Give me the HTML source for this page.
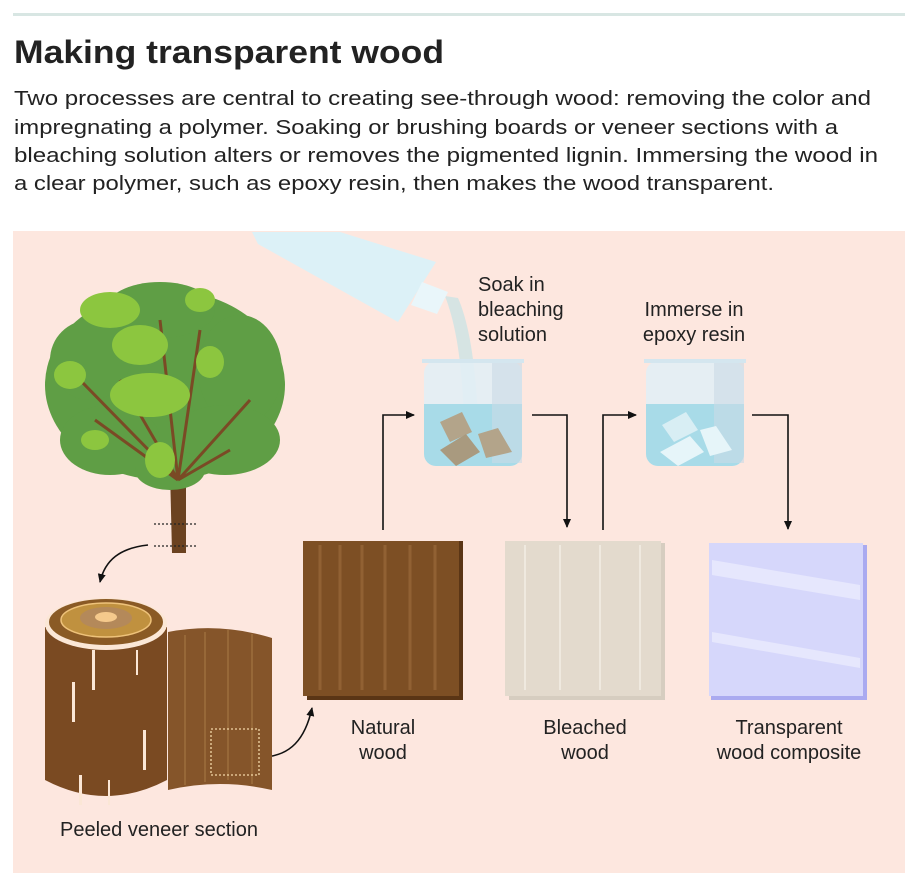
<!DOCTYPE html>
<html><head><meta charset="utf-8"><style>
html,body{margin:0;padding:0;background:#fff}
svg{display:block}
text{font-family:"Liberation Sans",sans-serif;fill:#222}
</style></head><body>
<svg width="919" height="881" viewBox="0 0 919 881" xmlns="http://www.w3.org/2000/svg">
<defs>
<marker id="ah" markerWidth="10" markerHeight="10" refX="8" refY="5" orient="auto" markerUnits="userSpaceOnUse">
<path d="M0,1 L9,5 L0,9 z" fill="#111"/></marker>
</defs>
<rect x="13" y="13" width="892" height="3" fill="#d8e6e3"/>
<text x="14" y="63" font-size="32" font-weight="bold" textLength="430" lengthAdjust="spacingAndGlyphs">Making transparent wood</text>
<g font-size="20">
<text x="14" y="105" textLength="857" lengthAdjust="spacingAndGlyphs">Two processes are central to creating see-through wood: removing the color and</text>
<text x="14" y="134" textLength="824" lengthAdjust="spacingAndGlyphs">impregnating a polymer. Soaking or brushing boards or veneer sections with a</text>
<text x="14" y="162" textLength="864" lengthAdjust="spacingAndGlyphs">bleaching solution alters or removes the pigmented lignin. Immersing the wood in</text>
<text x="14" y="190" textLength="760" lengthAdjust="spacingAndGlyphs">a clear polymer, such as epoxy resin, then makes the wood transparent.</text>
</g>
<rect x="13" y="231" width="892" height="642" fill="#fde7df"/>

<!-- bottle -->
<path d="M445,296 C458,330 462,370 464,420 L478,420 C476,370 470,325 458,298 z" fill="#cfe3e4" opacity="0.85"/>
<polygon points="252,232 340,232 436,262 398,322 258,244" fill="#dcf1f7"/>
<polygon points="422,282 448,292 437,314 411,305" fill="#e9f6fa"/>

<!-- beakers -->
<g>
<rect x="424" y="361" width="98" height="105" rx="12" fill="#e2eef5" opacity="0.9"/>
<path d="M424,404 H522 V454 a12,12 0 0 1 -12,12 H436 a12,12 0 0 1 -12,-12 z" fill="#a8dbe8"/>
<rect x="422" y="359" width="102" height="4" fill="#d4e6ef"/>
<rect x="492" y="363" width="30" height="100" fill="#c9dbe6" opacity="0.6"/>
<polygon points="440,422 462,412 472,432 450,442" fill="#b3a48a"/>
<polygon points="440,450 466,434 480,452 456,466" fill="#a99a7f"/>
<polygon points="478,434 498,428 512,452 486,458" fill="#b3a48a"/>
</g>
<g>
<rect x="646" y="361" width="98" height="105" rx="12" fill="#e2eef5" opacity="0.9"/>
<path d="M646,404 H744 V454 a12,12 0 0 1 -12,12 H658 a12,12 0 0 1 -12,-12 z" fill="#a8dbe8"/>
<rect x="644" y="359" width="102" height="4" fill="#d4e6ef"/>
<rect x="714" y="363" width="30" height="100" fill="#c9dbe6" opacity="0.6"/>
<polygon points="662,425 686,412 698,430 674,442" fill="#d8eef4"/>
<polygon points="660,452 690,436 704,452 678,466" fill="#e6f5f9"/>
<polygon points="700,430 716,426 732,450 710,456" fill="#e6f5f9"/>
</g>
<g font-size="20">
<text x="478" y="291">Soak in</text>
<text x="478" y="316">bleaching</text>
<text x="478" y="341">solution</text>
<text x="694" y="316" text-anchor="middle">Immerse in</text>
<text x="694" y="341" text-anchor="middle">epoxy resin</text>
</g>

<!-- arrows -->
<g fill="none" stroke="#111" stroke-width="1.6">
<path d="M383,530 V415 H414" marker-end="url(#ah)"/>
<path d="M532,415 H567 V527" marker-end="url(#ah)"/>
<path d="M603,530 V415 H636" marker-end="url(#ah)"/>
<path d="M752,415 H788 V529" marker-end="url(#ah)"/>
<path d="M148,545 C120,548 105,560 100,582" marker-end="url(#ah)"/>
<path d="M265,757 C290,755 305,740 312,708" marker-end="url(#ah)"/>
</g>

<!-- boards -->
<rect x="307" y="541" width="156" height="159" fill="#5a3515"/>
<rect x="303" y="541" width="156" height="155" fill="#7d4f24"/>
<g stroke="#9a6a3a" stroke-width="3" opacity="0.7">
<line x1="320" y1="545" x2="320" y2="690"/><line x1="340" y1="545" x2="340" y2="690"/><line x1="362" y1="545" x2="362" y2="690"/><line x1="385" y1="545" x2="385" y2="690"/><line x1="410" y1="545" x2="410" y2="690"/><line x1="435" y1="545" x2="435" y2="690"/>
</g>
<rect x="509" y="543" width="156" height="157" fill="#d6cdc0"/>
<rect x="505" y="541" width="156" height="155" fill="#e3dacd"/>
<g stroke="#efe9df" stroke-width="2"><line x1="525" y1="545" x2="525" y2="690"/><line x1="560" y1="545" x2="560" y2="690"/><line x1="600" y1="545" x2="600" y2="690"/><line x1="640" y1="545" x2="640" y2="690"/></g>
<rect x="711" y="545" width="156" height="155" fill="#aaaaf0"/>
<rect x="709" y="543" width="154" height="153" fill="#d6d7fb"/>
<polygon points="712,560 860,585 860,600 712,575" fill="#e6e7fd"/>
<polygon points="712,632 860,658 860,668 712,642" fill="#e6e7fd"/>
<g font-size="20" text-anchor="middle">
<text x="383" y="734">Natural</text><text x="383" y="759">wood</text>
<text x="585" y="734">Bleached</text><text x="585" y="759">wood</text>
<text x="789" y="734">Transparent</text><text x="789" y="759">wood composite</text>
<text x="159" y="836">Peeled veneer section</text>
</g>

<!-- tree -->
<path d="M170,470 L186,470 L186,553 L172,553 z" fill="#6b4220"/>
<g fill="#5f9e45">
<ellipse cx="165" cy="385" rx="120" ry="95"/>
<ellipse cx="90" cy="360" rx="40" ry="40"/>
<ellipse cx="240" cy="370" rx="42" ry="55"/>
<ellipse cx="160" cy="310" rx="55" ry="28"/>
<ellipse cx="110" cy="440" rx="50" ry="35"/>
<ellipse cx="225" cy="440" rx="55" ry="35"/>
<ellipse cx="170" cy="470" rx="35" ry="20"/>
</g>
<g stroke="#7a4a25" stroke-width="3" fill="none">
<path d="M178,480 L120,380 M178,480 L95,420 M178,480 L160,320 M178,480 L200,330 M178,480 L250,400 M178,480 L230,450 M178,480 L80,380"/>
</g>
<g fill="#8cc63f">
<ellipse cx="110" cy="310" rx="30" ry="18"/><ellipse cx="140" cy="345" rx="28" ry="20"/>
<ellipse cx="150" cy="395" rx="40" ry="22"/><ellipse cx="70" cy="375" rx="16" ry="14"/>
<ellipse cx="210" cy="362" rx="14" ry="16"/><ellipse cx="160" cy="460" rx="15" ry="18"/>
<ellipse cx="200" cy="300" rx="15" ry="12"/><ellipse cx="95" cy="440" rx="14" ry="10"/>
</g>
<g stroke="#222" stroke-width="1.3" stroke-dasharray="2,2"><line x1="154" y1="524" x2="196" y2="524"/><line x1="154" y1="546" x2="196" y2="546"/></g>

<!-- log & veneer -->
<path d="M168,632 Q220,622 272,638 V790 Q220,778 168,790 z" fill="#85552a"/>
<g stroke="#a0713f" stroke-width="2" opacity="0.7"><line x1="185" y1="635" x2="185" y2="785"/><line x1="205" y1="632" x2="205" y2="782"/><line x1="228" y1="630" x2="228" y2="780"/><line x1="252" y1="634" x2="252" y2="784"/></g>
<rect x="211" y="729" width="48" height="46" fill="none" stroke="#f3d8a8" stroke-width="1.3" stroke-dasharray="2,2"/>
<path d="M45,627 V780 Q106,812 167,780 V627 z" fill="#7a4a22"/>
<ellipse cx="106" cy="624" rx="61" ry="26" fill="#fbe7d6"/>
<ellipse cx="106" cy="622" rx="57" ry="23" fill="#8a5a25"/>
<ellipse cx="106" cy="620" rx="45" ry="17" fill="#c0913f" stroke="#eec27a" stroke-width="1.5"/>
<ellipse cx="106" cy="618" rx="26" ry="11" fill="#b4895a"/>
<ellipse cx="106" cy="617" rx="11" ry="5" fill="#f5c98c"/>
<g fill="#fbe7d6"><rect x="72" y="682" width="3" height="40"/><rect x="92" y="650" width="3" height="40"/><rect x="79" y="775" width="3" height="30"/><rect x="143" y="730" width="3" height="40"/><rect x="136" y="650" width="2" height="25"/><rect x="108" y="780" width="2" height="25"/></g>
</svg>
</body></html>
